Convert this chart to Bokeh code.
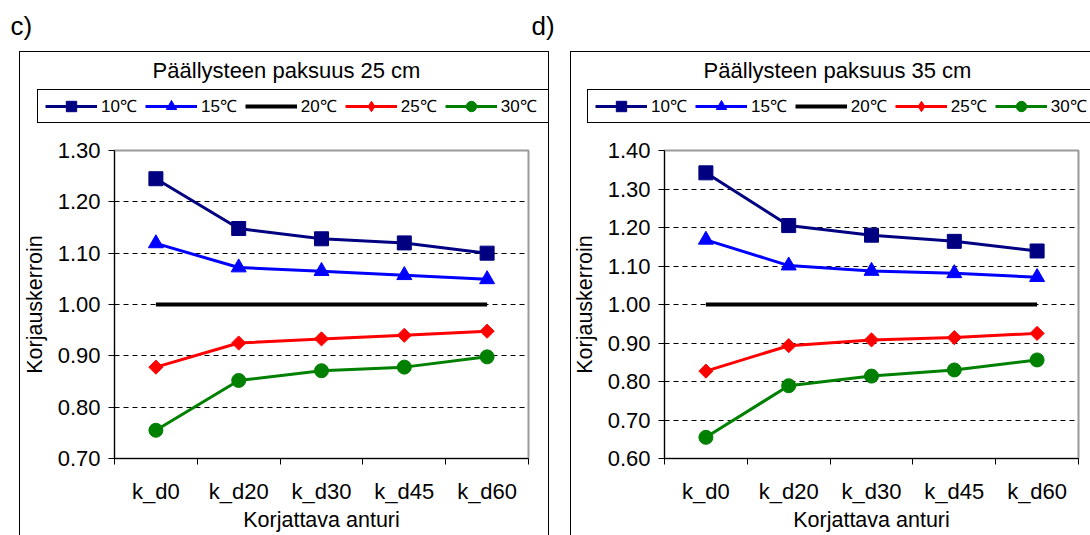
import math
from bokeh.plotting import figure
from bokeh.models import (Range1d, FixedTicker, PrintfTickFormatter, Legend, LegendItem, Label)
from bokeh.layouts import row, column
from bokeh.embed import file_html
from bokeh.resources import INLINE

categories = ["k_d0", "k_d20", "k_d30", "k_d45", "k_d60"]
series_names = ["10℃", "15℃", "20℃", "25℃", "30℃"]
colors = ["#000080", "#0000FF", "#000000", "#FF0000", "#008000"]
markers = ["square", "triangle", None, "diamond", "circle"]

# Panel c) Päällysteen paksuus 25 cm
c_10 = [1.245, 1.148, 1.128, 1.120, 1.100]
c_15 = [1.119, 1.072, 1.065, 1.057, 1.049]
c_20 = [1.00, 1.00, 1.00, 1.00, 1.00]
c_25 = [0.878, 0.925, 0.933, 0.940, 0.948]
c_30 = [0.755, 0.852, 0.871, 0.878, 0.898]
c_yticks = [0.70, 0.80, 0.90, 1.00, 1.10, 1.20, 1.30]

# Panel d) Päällysteen paksuus 35 cm
d_10 = [1.342, 1.205, 1.180, 1.164, 1.139]
d_15 = [1.168, 1.101, 1.087, 1.081, 1.071]
d_20 = [1.00, 1.00, 1.00, 1.00, 1.00]
d_25 = [0.827, 0.893, 0.908, 0.914, 0.925]
d_30 = [0.655, 0.789, 0.814, 0.830, 0.856]
d_yticks = [0.60, 0.70, 0.80, 0.90, 1.00, 1.10, 1.20, 1.30, 1.40]

FONT = "Liberation Sans"
HEADER_H = 127
TOTAL_H = 535
NAN = float("nan")


def add_series(fig, xs, vals, col, mk, legend_glyphs=False):
    lw = 4 if mk is None else 3
    rs = [fig.line(xs, vals, line_color=col, line_width=lw)]
    if mk == "square":
        rs.append(fig.scatter(xs, vals, marker="square", size=14, fill_color=col, line_color=col))
    elif mk == "triangle":
        rs.append(fig.scatter(xs, vals, marker="triangle", size=15, fill_color=col, line_color=col))
    elif mk == "diamond":
        if legend_glyphs:
            rs.append(fig.scatter(xs, vals, marker="diamond", fill_color=col, line_color=col))
        else:
            rs.append(fig.scatter(xs, vals, marker="square", angle=math.pi / 4, size=10,
                                  fill_color=col, line_color=col))
    elif mk == "circle":
        rs.append(fig.scatter(xs, vals, marker="circle", size=14, fill_color=col, line_color=col))
    return rs


def make_panel(width, frame_left, frame_right, box_left, legend_left, title_x,
               title, series, yticks, letters, box_right=None):
    # ---------- header: letters, title, legend ----------
    h = figure(width=width, height=HEADER_H, output_backend="svg", toolbar_location=None,
               x_range=Range1d(0, 1), y_range=Range1d(0, 1),
               x_axis_location=None, y_axis_location=None, min_border=0)
    h.frame_align = False
    h.grid.visible = False
    h.outline_line_color = None
    h.background_fill_alpha = 0
    h.border_fill_alpha = 0

    items = []
    for name, col, mk in zip(series_names, colors, markers):
        rs = add_series(h, [NAN], [NAN], col, mk, legend_glyphs=True)
        items.append(LegendItem(label=name, renderers=rs))
    legend = Legend(items=items, orientation="horizontal",
                    location=(legend_left, HEADER_H - 118.5),
                    padding=0, margin=0, spacing=8, label_standoff=4,
                    glyph_width=52, glyph_height=26,
                    label_text_font=FONT, label_text_font_size="17px",
                    label_text_color="black",
                    border_line_color=None, background_fill_alpha=0)
    h.add_layout(legend)
    h.add_layout(Label(x=title_x, y=HEADER_H - 70, x_units="screen", y_units="screen",
                       text=title, text_align="center", text_baseline="middle",
                       text_font=FONT, text_font_size="22px", text_color="black"))
    for lx, ly, lt in letters:
        h.add_layout(Label(x=lx, y=HEADER_H - ly, x_units="screen", y_units="screen", text=lt,
                           text_align="left", text_baseline="middle",
                           text_font=FONT, text_font_size="26px", text_color="black"))

    # ---------- chart ----------
    p = figure(width=width, height=TOTAL_H - HEADER_H, output_backend="svg", toolbar_location=None,
               x_range=Range1d(0.5, len(categories) + 0.5),
               y_range=Range1d(yticks[0], yticks[-1]),
               min_border_left=frame_left, min_border_right=width - frame_right,
               min_border_top=150 - HEADER_H, min_border_bottom=TOTAL_H - 458)
    p.frame_align = False
    p.background_fill_color = "white"
    p.border_fill_alpha = 0
    p.outline_line_color = "#9a9a9a"
    p.outline_line_width = 2

    xs = list(range(1, len(categories) + 1))
    for vals, col, mk in zip(series, colors, markers):
        add_series(p, xs, vals, col, mk)

    p.xaxis.ticker = FixedTicker(ticks=xs, minor_ticks=[x - 0.5 for x in xs] + [xs[-1] + 0.5])
    p.xaxis.major_label_overrides = {x: c for x, c in zip(xs, categories)}
    p.xaxis.major_tick_line_color = None
    p.xaxis.major_tick_out = 6
    p.xaxis.major_tick_in = 0
    p.xaxis.minor_tick_line_color = "black"
    p.xaxis.minor_tick_out = 6
    p.xaxis.minor_tick_in = 0
    p.xaxis.major_label_standoff = 14
    p.xaxis.axis_label = "Korjattava anturi"
    p.xaxis.axis_label_standoff = 1

    p.yaxis.ticker = FixedTicker(ticks=yticks)
    p.yaxis.formatter = PrintfTickFormatter(format="%.2f")
    p.yaxis.major_tick_out = 6
    p.yaxis.major_tick_in = 0
    p.yaxis.minor_tick_line_color = None
    p.yaxis.major_label_standoff = 8
    p.yaxis.axis_label = "Korjauskerroin"
    p.yaxis.axis_label_standoff = 8

    for ax in (p.xaxis, p.yaxis):
        ax.axis_line_color = "black"
        ax.major_label_text_font = FONT
        ax.major_label_text_font_size = "22px"
        ax.major_label_text_color = "black"
        ax.axis_label_text_font = FONT
        ax.axis_label_text_font_size = "21.5px"
        ax.axis_label_text_font_style = "normal"
        ax.axis_label_text_color = "black"

    p.xgrid.grid_line_color = None
    p.ygrid.ticker = FixedTicker(ticks=yticks[1:-1])
    p.ygrid.grid_line_color = "black"
    p.ygrid.grid_line_dash = "5 4"
    p.ygrid.grid_line_width = 1

    # frame lines of the chart box and legend box (page decoration)
    right = box_right if box_right is not None else width
    g = "linear-gradient(#000,#000)"
    lines = [
        f"{g} {box_left}px 51px / {right - box_left}px 1px no-repeat",
        f"{g} {box_left}px 51px / 1px {TOTAL_H - 51}px no-repeat",
        f"{g} {legend_left - 8}px 89px / {right - legend_left + 8}px 1px no-repeat",
        f"{g} {legend_left - 8}px 122px / {right - legend_left + 8}px 1px no-repeat",
        f"{g} {legend_left - 8}px 89px / 1px 34px no-repeat",
    ]
    if box_right is not None:
        lines.append(f"{g} {box_right - 1}px 51px / 1px {TOTAL_H - 51}px no-repeat")
    col = column(h, p, styles={"background": ", ".join(lines) + ", #ffffff"})
    return col


panel_c = make_panel(560, 114, 528, 19, 45, 286, "Päällysteen paksuus 25 cm",
                     [c_10, c_15, c_20, c_25, c_30], c_yticks,
                     [(10, 25, "c)"), (531, 25, "d)")], box_right=549)
panel_d = make_panel(530, 104, 518, 10, 35, 277, "Päällysteen paksuus 35 cm",
                     [d_10, d_15, d_20, d_25, d_30], d_yticks, [])

layout = row(panel_c, panel_d)
open("out.html", "w").write(file_html(layout, INLINE))
